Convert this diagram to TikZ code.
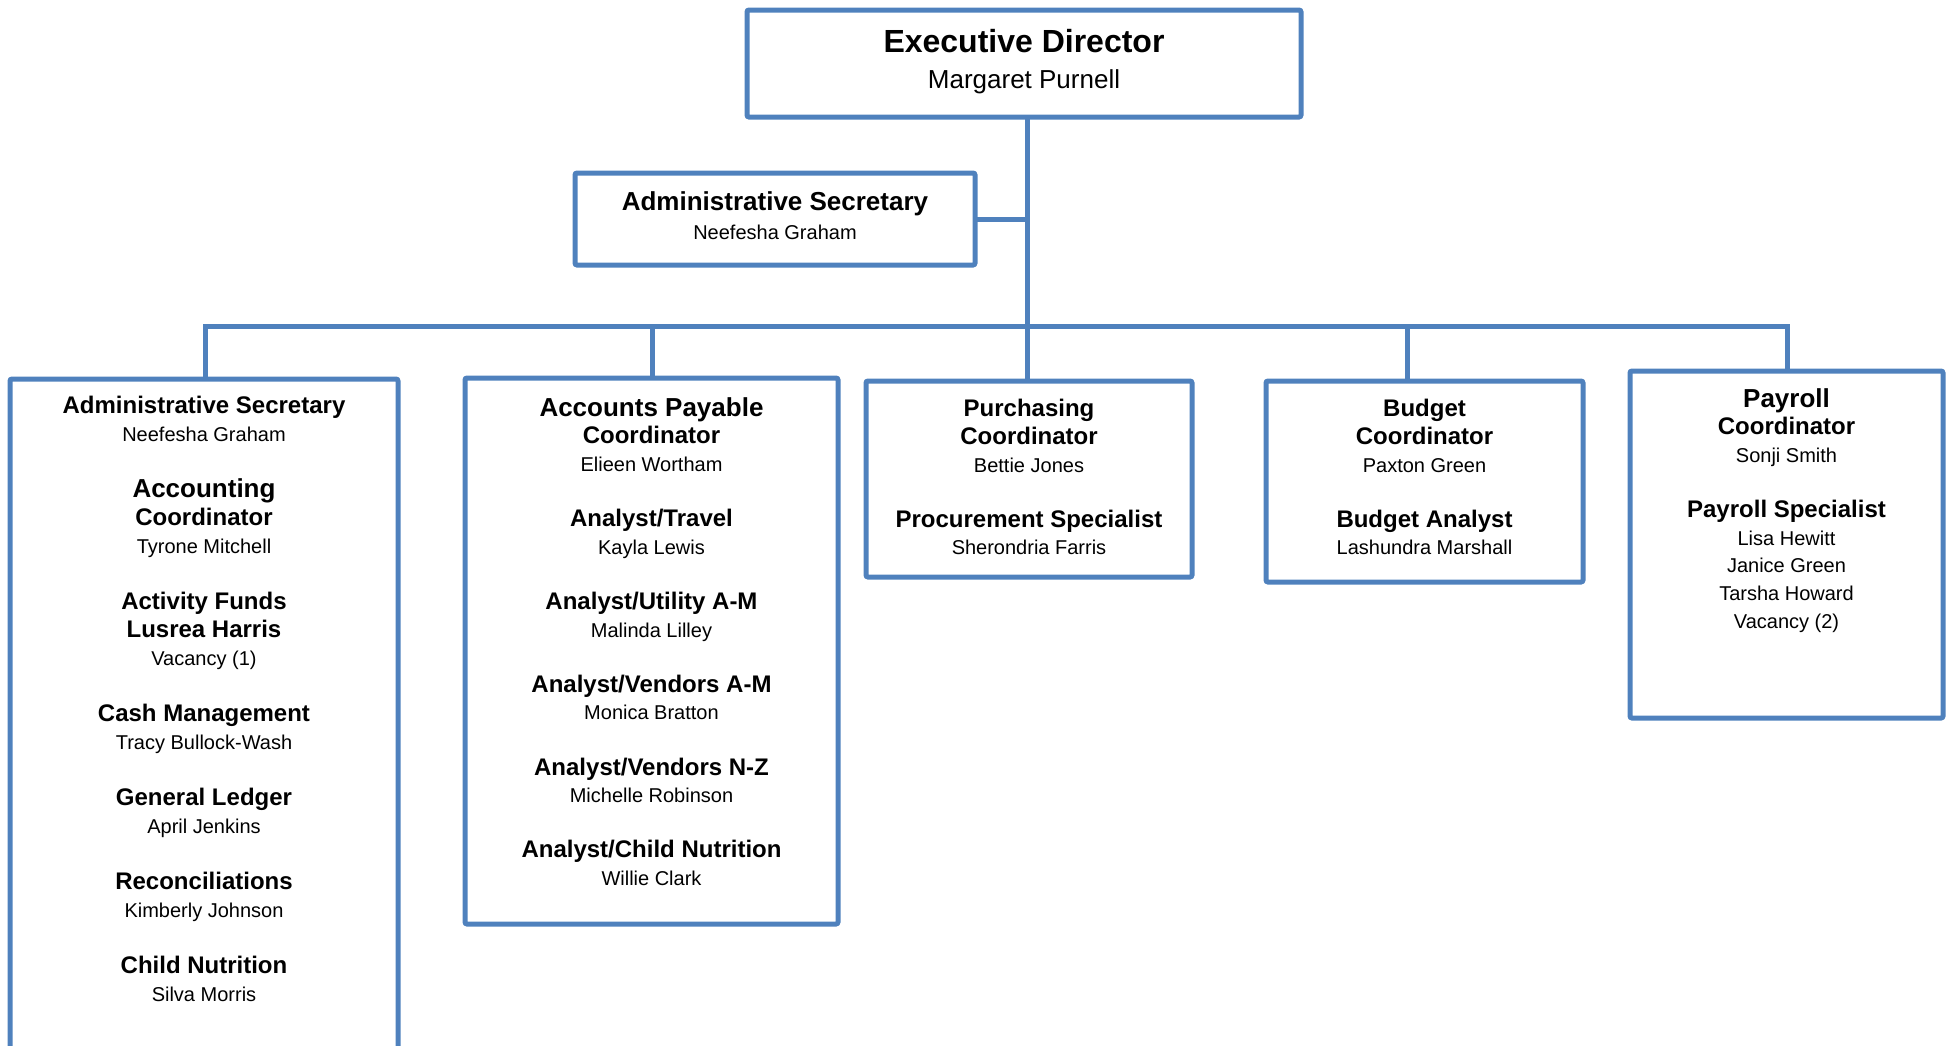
\documentclass[tikz,border=0pt]{standalone}
\usepackage{fontspec}
\setmainfont{Liberation Sans}
\usetikzlibrary{positioning}
\definecolor{orgblue}{RGB}{79,129,189}
\tikzset{
  box/.style={draw=orgblue, line width=2.5pt, rounded corners=1pt, inner sep=0pt, outer sep=0pt, anchor=north west},
  link/.style={draw=orgblue, line width=2.5pt},
  txt/.style={anchor=north, inner sep=0pt, align=center, font=\fontsize{10}{13.8}\selectfont}
}
\newcommand{\role}[1]{{\fontsize{12}{12}\selectfont\bfseries #1}}
\newcommand{\bigrole}[1]{{\fontsize{13}{13}\selectfont\bfseries #1}}
\begin{document}
\begin{tikzpicture}[x=0.5pt,y=-0.5pt]
\useasboundingbox (0,0) rectangle (1950,1045);
\node[box, minimum width=277pt, minimum height=53.5pt] at (747,10) (exec) {};
\node[box, minimum width=200pt, minimum height=46pt] at (575,173) (sec) {};
\node[box, minimum width=194pt, minimum height=350pt] at (10,379) (acct) {};
\node[box, minimum width=186.5pt, minimum height=273pt] at (465,378) (pay) {};
\node[box, minimum width=163pt, minimum height=98pt] at (866,381) (purch) {};
\node[box, minimum width=158.5pt, minimum height=100.5pt] at (1266,381) (budg) {};
\node[box, minimum width=156.5pt, minimum height=173.5pt] at (1630,371) (payr) {};

\node[txt, font=\fontsize{13}{18}\selectfont, below=9.5pt of exec.north] (exec-t)
  {{\fontsize{16}{16}\selectfont\bfseries Executive Director}\\ Margaret Purnell};
\node[txt, font=\fontsize{10}{14.5}\selectfont, below=9pt of sec.north] (sec-t)
  {\bigrole{Administrative Secretary}\\ Neefesha Graham};
\node[txt, font=\fontsize{10}{14}\selectfont, below=8.5pt of acct.north] (acct-t)
  {\role{Administrative Secretary}\\ Neefesha Graham\\[14pt]
   \bigrole{Accounting}\\ \role{Coordinator}\\ Tyrone Mitchell\\[14pt]
   \role{Activity Funds}\\ \role{Lusrea Harris}\\ Vacancy (1)\\[14pt]
   \role{Cash Management}\\ Tracy Bullock-Wash\\[14pt]
   \role{General Ledger}\\ April Jenkins\\[14pt]
   \role{Reconciliations}\\ Kimberly Johnson\\[14pt]
   \role{Child Nutrition}\\ Silva Morris};
\node[txt, below=9.5pt of pay.north] (pay-t)
  {\bigrole{Accounts Payable}\\ \role{Coordinator}\\ Elieen Wortham\\[13.8pt]
   \role{Analyst/Travel}\\ Kayla Lewis\\[13.8pt]
   \role{Analyst/Utility A-M}\\ Malinda Lilley\\[13.8pt]
   \role{Analyst/Vendors A-M}\\ Monica Bratton\\[13.8pt]
   \role{Analyst/Vendors N-Z}\\ Michelle Robinson\\[13.8pt]
   \role{Analyst/Child Nutrition}\\ Willie Clark};
\node[txt, below=9pt of purch.north] (purch-t)
  {\role{Purchasing}\\ \role{Coordinator}\\ Bettie Jones\\[13.8pt]
   \role{Procurement Specialist}\\ Sherondria Farris};
\node[txt, below=9pt of budg.north] (budg-t)
  {\role{Budget}\\ \role{Coordinator}\\ Paxton Green\\[13.8pt]
   \role{Budget Analyst}\\ Lashundra Marshall};
\node[txt, below=8.5pt of payr.north] (payr-t)
  {\bigrole{Payroll}\\ \role{Coordinator}\\ Sonji Smith\\[13.8pt]
   \role{Payroll Specialist}\\ Lisa Hewitt\\ Janice Green\\ Tarsha Howard\\ Vacancy (2)};

\foreach \n/\x in {acct/205,pay/652,purch/1027,budg/1407,payr/1787}
  \coordinate (d-\n) at (\x,326);
\draw[link] (d-acct |- acct.north) -- (d-acct) -- (d-payr) -- (d-payr |- payr.north);
\foreach \n in {pay,purch,budg}
  \draw[link] (d-\n) -- (d-\n |- \n.north);
\draw[link] (exec.south -| d-purch) -- (d-purch);
\draw[link] (sec.east) -- (sec.east -| d-purch);
\end{tikzpicture}
\end{document}
